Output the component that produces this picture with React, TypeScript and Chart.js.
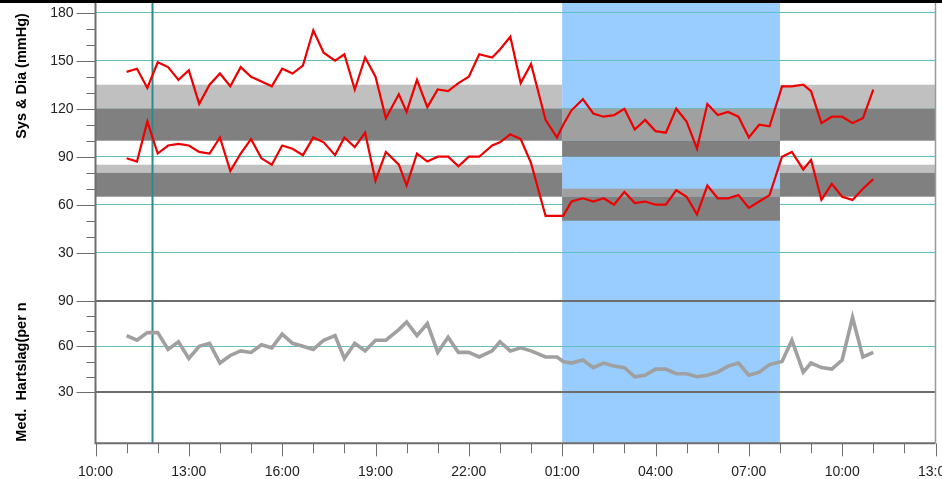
import { useEffect, useRef } from 'react';
import { Chart, registerables } from 'chart.js';

Chart.register(...registerables);

// ---- data ----
const times = [
  '11:00', '11:20', '11:40', '12:00', '12:20', '12:40', '13:00', '13:20', '13:40', '14:00',
  '14:20', '14:40', '15:00', '15:20', '15:40', '16:00', '16:20', '16:40', '17:00', '17:20',
  '17:42', '18:00', '18:20', '18:40', '19:00', '19:20', '19:45', '20:00', '20:20', '20:40',
  '21:00', '21:20', '21:40', '22:00', '22:20', '22:45', '23:00', '23:20', '23:40', '00:00',
  '00:28', '00:50', '01:02', '01:18', '01:40', '02:00', '02:20', '02:40', '03:00', '03:20',
  '03:40', '04:00', '04:20', '04:40', '05:00', '05:20', '05:40', '06:00', '06:20', '06:40',
  '07:00', '07:20', '07:40', '08:04', '08:23', '08:45', '09:00', '09:20', '09:40', '10:00',
  '10:20', '10:40', '11:00',
];

const systolic = [
  143, 145, 133, 149, 146, 138, 144, 123, 135, 142,
  134, 146, 140, 137, 134, 145, 142, 147, 169, 155,
  150, 154, 132, 152, 140, 114, 129, 118, 138, 121,
  132, 131, 136, 140, 154, 152, 157, 165, 136, 148,
  113, 102, 110, 119, 126, 117, 115, 116, 120, 107,
  113, 106, 105, 120, 112, 95, 123, 116, 118, 115,
  102, 110, 109, 134, 134, 135, 131, 111, 115, 115,
  111, 114, 132,
];

const diastolic = [
  89, 87, 112, 92, 97, 98, 97, 93, 92, 102,
  81, 92, 101, 89, 85, 97, 95, 91, 102, 99,
  91, 102, 96, 105, 75, 93, 85, 72, 92, 87,
  90, 90, 84, 90, 90, 97, 99, 104, 101, 86,
  53, 53, 53, 62, 64, 62, 64, 60, 68, 61,
  62, 60, 60, 69, 65, 54, 72, 64, 64, 66,
  58, 62, 66, 90, 93, 82, 88, 63, 73, 65,
  63, 70, 76,
];

const heartRate = [
  67, 64, 69, 69, 58, 63, 52, 60, 62, 49,
  54, 57, 56, 61, 59, 68, 62, 60, 58, 64,
  67, 52, 62, 57, 64, 64, 71, 76, 67, 75,
  56, 66, 56, 56, 53, 57, 63, 57, 59, 57,
  53, 53, 50, 49, 51, 46, 49, 47, 46, 40,
  41, 45, 45, 42, 42, 40, 41, 43, 47, 49,
  41, 43, 48, 50, 64, 43, 49, 46, 45, 51,
  79, 53, 56,
];

// axis hours (10:00 day 1 .. 13:00 day 2)
const xMin = 10;
const xMax = 37;
const nightStart = 25; // 01:00
const nightEnd = 32; // 08:00
const markerTime = 11.8; // 11:48

// BP ticks (mmHg) and heart-rate ticks (per min)
const bpTicks = [180, 170, 160, 150, 140, 130, 120, 110, 100, 90, 80, 70, 60, 50, 40, 30];
const bpLabels = [180, 150, 120, 90, 60, 30];
const hrTicks = [90, 80, 70, 60, 50, 40, 30];
const hrLabels = [90, 60, 30];
const hrDarkLines = [90, 30];

// normal-range bands [dark low, dark high / light low, light high]
const sysDayLimits = [100, 120, 135];
const diaDayLimits = [65, 80, 85];
const sysNightLimits = [90, 100, 120];
const diaNightLimits = [50, 65, 70];

// ---- helpers ----
const HR_SCALE = 0.95; // heart-rate units -> shared axis units
const hrToAxis = (hr: number) => (hr - 90) * HR_SCALE;

function toAxisHours(list: string[]): number[] {
  let offset = 0;
  let prev = -Infinity;
  return list.map((t) => {
    const [h, m] = t.split(':').map(Number);
    let v = h + m / 60 + offset;
    if (v < prev) {
      offset += 24;
      v += 24;
    }
    prev = v;
    return v;
  });
}

type TickDef = { value: number; label: string; major: boolean; kind: string };
const yTickDefs: TickDef[] = [
  ...bpTicks.map((v) => ({
    value: v,
    label: bpLabels.includes(v) ? String(v) : '',
    major: bpLabels.includes(v),
    kind: bpLabels.includes(v) ? 'teal' : 'none',
  })),
  ...hrTicks.map((v) => ({
    value: hrToAxis(v),
    label: hrLabels.includes(v) ? String(v) : '',
    major: hrLabels.includes(v),
    kind: hrDarkLines.includes(v) ? 'dark' : hrLabels.includes(v) ? 'teal' : 'none',
  })),
];

const xTickValues: number[] = [];
for (let h = xMin; h <= xMax; h++) xTickValues.push(h);

const FONT = "'Liberation Sans', Arial, sans-serif";
const AXIS_GRAY = '#6e6e6e';
const TEAL = '#62c0c0';

export default function App() {
  const ref = useRef<HTMLCanvasElement>(null);

  useEffect(() => {
    document.body.style.margin = '0';
    const canvas = ref.current;
    if (!canvas) return;

    const xs = toAxisHours(times);
    const sysData = xs.map((x, i) => ({ x, y: systolic[i] }));
    const diaData = xs.map((x, i) => ({ x, y: diastolic[i] }));
    const hrData = xs.map((x, i) => ({ x, y: hrToAxis(heartRate[i]) }));

    const customPlugin = {
      id: 'bpDecor',
      beforeDraw(chart: any) {
        const { ctx, chartArea: a, scales } = chart;
        const x = scales.x;
        ctx.save();
        ctx.fillStyle = '#99ccff';
        const x1 = x.getPixelForValue(nightStart);
        const x2 = x.getPixelForValue(nightEnd);
        ctx.fillRect(x1, a.top, x2 - x1, a.bottom - a.top);
        ctx.restore();
      },
      beforeDatasetsDraw(chart: any) {
        const { ctx, chartArea: a, scales } = chart;
        const x = scales.x;
        const y = scales.y;
        const rect = (h1: number, h2: number, lo: number, hi: number, color: string) => {
          const px1 = x.getPixelForValue(h1);
          const px2 = x.getPixelForValue(h2);
          const py1 = y.getPixelForValue(hi);
          const py2 = y.getPixelForValue(lo);
          ctx.fillStyle = color;
          ctx.fillRect(px1, py1, px2 - px1, py2 - py1);
        };
        ctx.save();
        const dayRanges = [
          [xMin, nightStart],
          [nightEnd, xMax],
        ];
        for (const [h1, h2] of dayRanges) {
          for (const lim of [sysDayLimits, diaDayLimits]) {
            rect(h1, h2, lim[1], lim[2], '#c0c0c0');
            rect(h1, h2, lim[0], lim[1], '#808080');
          }
        }
        for (const lim of [sysNightLimits, diaNightLimits]) {
          rect(nightStart, nightEnd, lim[1], lim[2], '#a0a0a0');
          rect(nightStart, nightEnd, lim[0], lim[1], '#808080');
        }
        // time marker
        const mx = Math.round(x.getPixelForValue(markerTime)) + 0.5;
        ctx.strokeStyle = '#2a8c8c';
        ctx.lineWidth = 2;
        ctx.beginPath();
        ctx.moveTo(mx, a.top);
        ctx.lineTo(mx, a.bottom);
        ctx.stroke();
        ctx.restore();
      },
      afterDatasetsDraw(chart: any) {
        const { ctx, chartArea: a, scales } = chart;
        const x = scales.x;
        const y = scales.y;
        ctx.save();
        // tick marks
        ctx.strokeStyle = AXIS_GRAY;
        ctx.lineWidth = 1;
        ctx.beginPath();
        for (const t of yTickDefs) {
          const py = Math.round(y.getPixelForValue(t.value)) + 0.5;
          ctx.moveTo(a.left - (t.major ? 19 : 9), py);
          ctx.lineTo(a.left, py);
        }
        for (const h of xTickValues) {
          const px = Math.round(x.getPixelForValue(h)) + 0.5;
          const major = (h - xMin) % 3 === 0;
          ctx.moveTo(px, a.bottom);
          ctx.lineTo(px, a.bottom + (major ? 13 : 10));
        }
        ctx.stroke();
        // frame
        ctx.lineWidth = 2;
        ctx.strokeStyle = AXIS_GRAY;
        ctx.beginPath();
        ctx.moveTo(a.left, a.top);
        ctx.lineTo(a.left, a.bottom);
        ctx.lineTo(a.right, a.bottom);
        ctx.stroke();
        ctx.strokeStyle = '#9a9a9a';
        ctx.lineWidth = 1.5;
        ctx.beginPath();
        ctx.moveTo(a.right, a.top);
        ctx.lineTo(a.right, a.bottom);
        ctx.stroke();
        ctx.restore();
      },
      afterDraw(chart: any) {
        const { ctx } = chart;
        ctx.save();
        ctx.fillStyle = '#000';
        ctx.fillRect(0, 0, chart.width, 3);
        ctx.font = `bold 14.5px ${FONT}`;
        ctx.textBaseline = 'alphabetic';
        ctx.save();
        ctx.translate(25.5, 76);
        ctx.rotate(-Math.PI / 2);
        ctx.textAlign = 'center';
        ctx.fillText('Sys & Dia (mmHg)', 0, 0);
        ctx.restore();
        ctx.save();
        ctx.translate(25.5, 441.7);
        ctx.rotate(-Math.PI / 2);
        ctx.textAlign = 'left';
        ctx.fillText('Med.  Hartslag(per n', 0, 0);
        ctx.restore();
        ctx.restore();
      },
    };

    const chart = new Chart(canvas, {
      type: 'line',
      data: {
        datasets: [
          {
            label: 'Sys',
            data: sysData,
            borderColor: '#ee0000',
            borderWidth: 2.2,
            pointRadius: 0,
            tension: 0,
          },
          {
            label: 'Dia',
            data: diaData,
            borderColor: '#ee0000',
            borderWidth: 2.2,
            pointRadius: 0,
            tension: 0,
          },
          {
            label: 'Hartslag',
            data: hrData,
            borderColor: '#a0a0a0',
            borderWidth: 3.6,
            pointRadius: 0,
            tension: 0,
          },
        ],
      },
      options: {
        responsive: false,
        animation: false,
        devicePixelRatio: 1,
        events: [],
        layout: { padding: { top: 3, right: 6.5, left: 0, bottom: 0 } },
        plugins: { legend: { display: false }, tooltip: { enabled: false } },
        scales: {
          x: {
            type: 'linear',
            position: 'bottom',
            min: xMin,
            max: xMax,
            afterBuildTicks: (scale: any) => {
              scale.ticks = xTickValues.map((v) => ({ value: v }));
            },
            afterFit: (scale: any) => {
              scale.height = 35.7;
              scale.paddingLeft = 0;
              scale.paddingRight = 0;
            },
            grid: { display: false, drawTicks: false },
            border: { display: false },
            ticks: {
              autoSkip: false,
              maxRotation: 0,
              padding: 20,
              color: '#222',
              font: { family: FONT, size: 14 },
              callback: (v: any) => {
                const h = Number(v);
                if ((h - xMin) % 3 !== 0) return '';
                return String(h % 24).padStart(2, '0') + ':00';
              },
            },
          },
          y: {
            type: 'linear',
            min: -89.1,
            max: 186.06,
            afterBuildTicks: (scale: any) => {
              scale.ticks = yTickDefs.map((d) => ({ value: d.value }));
            },
            afterFit: (scale: any) => {
              scale.width = 95.5;
              scale.paddingTop = 0;
              scale.paddingBottom = 0;
            },
            grid: {
              drawTicks: false,
              color: (c: any) => {
                const d = yTickDefs[c.index];
                if (!d) return 'rgba(0,0,0,0)';
                return d.kind === 'dark' ? AXIS_GRAY : d.kind === 'teal' ? TEAL : 'rgba(0,0,0,0)';
              },
              lineWidth: (c: any) => {
                const d = yTickDefs[c.index];
                return d && d.kind === 'dark' ? 2 : 1;
              },
            },
            border: { display: false },
            ticks: {
              autoSkip: false,
              padding: 22,
              color: '#222',
              font: { family: FONT, size: 14 },
              callback: (_v: any, i: number) => (yTickDefs[i] ? yTickDefs[i].label : ''),
            },
          },
        },
      },
      plugins: [customPlugin],
    } as any);

    return () => chart.destroy();
  }, []);

  return (
    <div style={{ width: 942, height: 479, position: 'relative', background: '#fff' }}>
      <canvas ref={ref} width={942} height={479} style={{ display: 'block' }} />
    </div>
  );
}
